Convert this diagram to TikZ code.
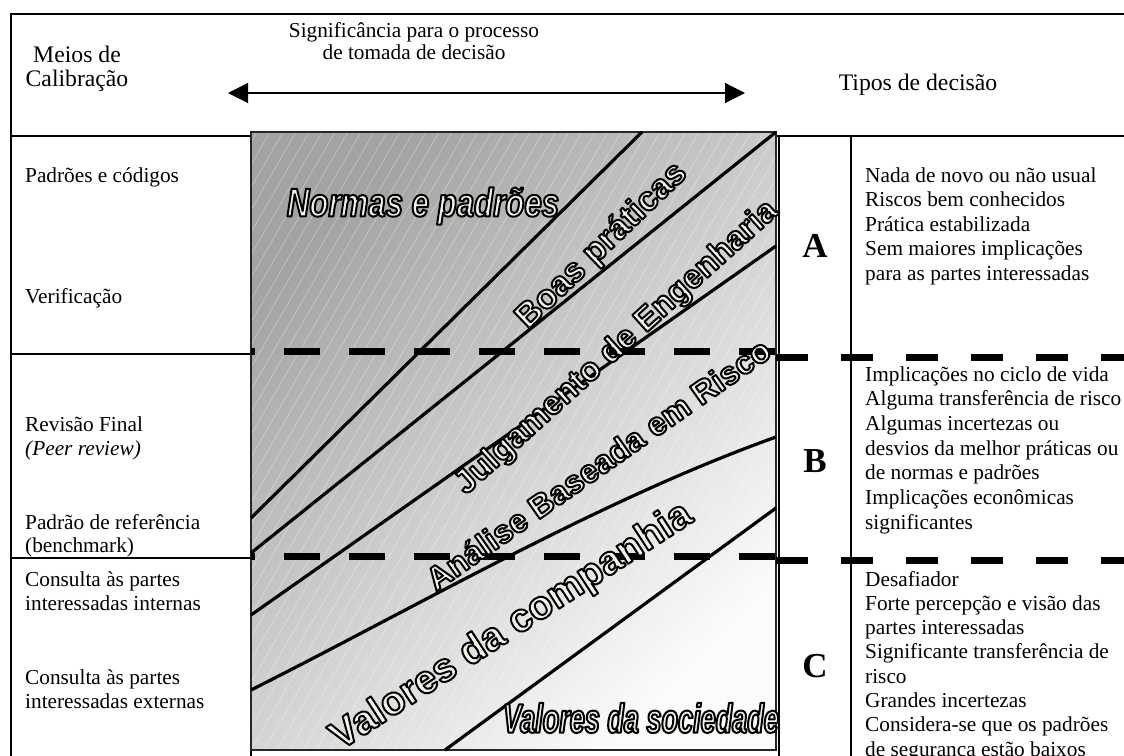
\documentclass[tikz,border=0pt]{standalone}
\usepackage{fontspec}
\setmainfont{Liberation Serif}
\newfontfamily\lblfont{Liberation Sans}
\newfontfamily\lblnarrow[FakeStretch=0.78]{Liberation Sans}
\newfontfamily\lblnarrower[FakeStretch=0.66]{Liberation Sans}
\usetikzlibrary{arrows.meta}
\newcommand\outl[1]{\special{pdf:literal direct 2 Tr 2 w 0 0 0 RG 1 j}#1\special{pdf:literal direct 0 Tr}}
\definecolor{cream}{RGB}{244,242,230}
\definecolor{gdark}{gray}{0.64}
\definecolor{glight}{gray}{0.985}
\tikzset{
  body/.style={font=\fontsize{21.3bp}{23.8bp}\selectfont, inner sep=0pt, anchor=base west},
  bodyc/.style={font=\fontsize{21.3bp}{23.8bp}\selectfont, inner sep=0pt, anchor=base},
  head/.style={font=\fontsize{23.7bp}{24bp}\selectfont, inner sep=0pt, anchor=base},
  letter/.style={font=\fontsize{35bp}{35bp}\selectfont\bfseries, inner sep=0pt},
  frame/.style={line width=1.8bp, black},
  band/.style={line width=3.2bp, black},
  dashbox/.style={line width=7bp, black, dash pattern=on 36bp off 29bp, dash phase=32bp},
  dashside/.style={line width=7bp, black, dash pattern=on 32bp off 33bp},
  hatch/.style={white, opacity=0.45, line width=0.5bp},
  lbl/.style={inner sep=0pt, text=cream},
  lblsans/.style={lbl, font=\lblfont\bfseries\fontsize{#1}{#1}\selectfont},
  arr/.style={line width=1.2bp, {Triangle[length=20bp,width=20bp]}-{Triangle[length=20bp,width=20bp]}}
}
\begin{document}
\begin{tikzpicture}[x=1bp, y=-1bp]
\useasboundingbox (0,0) rectangle (1124,756);
% frame lines
\draw[frame] (11,756) -- (11,14) -- (1124,14);
\draw[frame] (11,136) -- (1124,136);
\draw[frame] (11,354) -- (251,354);
\draw[frame] (11,558) -- (251,558);
\draw[frame] (251,136) -- (251,756);
\draw[frame] (779,136) -- (779,756);
\draw[frame] (851,136) -- (851,756);
% shaded box
\shade[shading=axis, top color=gdark, bottom color=glight, shading angle=45] (251,132) rectangle (776,750);
\begin{scope}
  \clip (251,132) rectangle (776,750);
  \foreach \i in {-30,...,42} \draw[hatch] ({251+13*\i},750) -- ({251+13*\i+357},132);
\end{scope}
\draw[line width=1.5bp, black!85] (251,132) rectangle (776,750);
% band boundaries
\draw[band] (642,132) -- (251,518);
\draw[band] (776,132) -- (251,553);
\draw[band] (776,246) -- (251,615);
\draw[band] (251,690) .. controls (420,605) and (600,500) .. (776,437);
\draw[band] (776,508) -- (445,750);
% dashed separators
\draw[dashbox] (251,351) -- (776,351);
\draw[dashbox] (251,556) -- (776,556);
\draw[dashside] (776,357) -- (1124,357);
\draw[dashside] (776,560) -- (1124,560);
% arrow and headers
\coordinate (arrL) at (228,93);
\coordinate (arrR) at (745,93);
\draw[arr] (arrL) -- (arrR);
\node[bodyc] (sig1) at (414,38) {Significância para o processo};
\node[bodyc] (sig2) at (414,60) {de tomada de decisão};
\node[head] (meios1) at (77,63) {Meios de};
\node[head] (meios2) at (77,87) {Calibração};
\node[head] (tipos) at (918,91) {Tipos de decisão};
% left column
\node[body] (l1) at (25,182) {Padrões e códigos};
\node[body] (l2) at (25,303) {Verificação};
\node[body] (l3) at (25,431) {Revisão Final};
\node[body] (l4) at (25,455) {\itshape (Peer review)};
\node[body] (l5) at (25,529) {Padrão de referência};
\node[body] (l6) at (25,552) {(benchmark)};
\node[body] (l7) at (25,586) {Consulta às partes};
\node[body] (l8) at (25,610) {interessadas internas};
\node[body] (l9) at (25,684) {Consulta às partes};
\node[body] (l10) at (25,708) {interessadas externas};
% letters
\node[letter] (A) at (815,246) {A};
\node[letter] (B) at (815,461) {B};
\node[letter] (C) at (815,666) {C};
% right column
\foreach \t [count=\k from 0] in {Nada de novo ou não usual, Riscos bem conhecidos, Prática estabilizada, Sem maiores implicações, para as partes interessadas}
  \node[body] (ra\k) at (865,{182+24.5*\k}) {\t};
\foreach \t [count=\k from 0] in {Implicações no ciclo de vida, Alguma transferência de risco, Algumas incertezas ou, desvios da melhor práticas ou, de normas e padrões, Implicações econômicas, significantes}
  \node[body] (rb\k) at (865,{381+24.7*\k}) {\t};
\foreach \t [count=\k from 0] in {Desafiador, Forte percepção e visão das, partes interessadas, Significante transferência de, risco, Grandes incertezas, Considera-se que os padrões, de segurança estão baixos}
  \node[body] (rc\k) at (865,{586+24.3*\k}) {\t};
% band labels
\node[lbl, font=\lblnarrow\bfseries\itshape\fontsize{40bp}{40bp}\selectfont] (normas) at (423,206) {\outl{Normas e padrões}};
\node[lblsans=34bp, rotate=44] (boas) at (602,246) {\outl{Boas práticas}};
\node[lblsans=33bp, rotate=42] (julg) at (617,348) {\outl{Julgamento de Engenharia}};
\node[lblsans=32.5bp, rotate=35] (anal) at (598,464) {\outl{Análise Baseada em Risco}};
\node[lblsans=40bp, rotate=33] (vcomp) at (512,627) {\outl{Valores da companhia}};
\node[lbl, font=\lblnarrower\bfseries\itshape\fontsize{41bp}{41bp}\selectfont] (vsoc) at (641,718) {\outl{Valores da sociedade}};
\end{tikzpicture}
\end{document}
